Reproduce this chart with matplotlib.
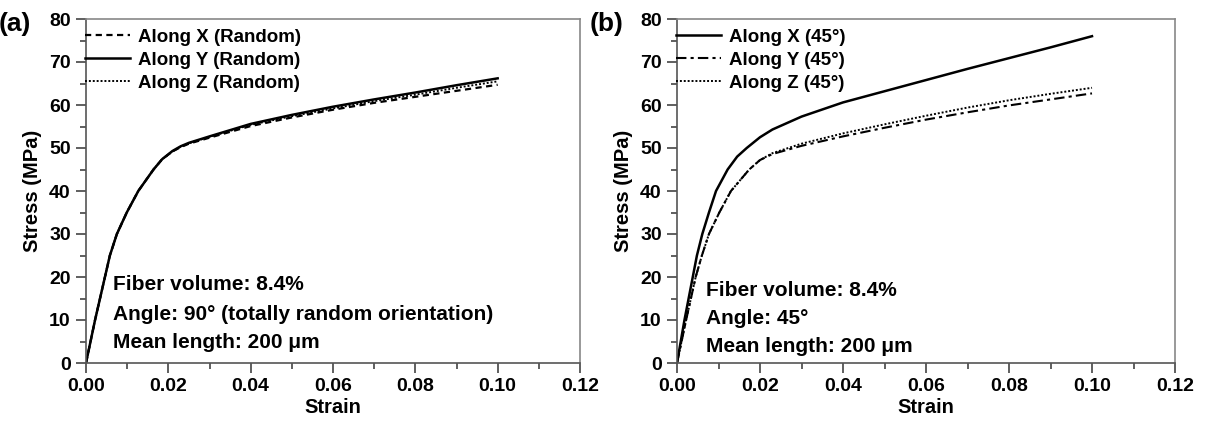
import numpy as np
import matplotlib.pyplot as plt
from matplotlib.ticker import MultipleLocator

plt.rcParams['font.family'] = ['Liberation Sans', 'DejaVu Sans']
plt.rcParams['font.weight'] = 'bold'

# (a) random orientation
strain_a = [0, 0.0022, 0.0046, 0.0058, 0.0075, 0.0099, 0.0127, 0.0164, 0.0185,
            0.021, 0.023, 0.025, 0.03, 0.04, 0.05, 0.06, 0.07, 0.08, 0.09, 0.10]
stress_ax = [0, 10, 20, 25, 30, 35, 40, 45, 47.4, 49.2, 50.2, 51.0, 52.4, 55.1,
             57.1, 58.9, 60.5, 61.9, 63.3, 64.7]
stress_ay = [0, 10, 20, 25, 30, 35, 40, 45, 47.4, 49.3, 50.4, 51.2, 52.7, 55.6,
             57.7, 59.6, 61.3, 62.9, 64.6, 66.2]
stress_az = [0, 10, 20, 25, 30, 35, 40, 45, 47.4, 49.2, 50.3, 51.1, 52.6, 55.4,
             57.4, 59.2, 60.9, 62.4, 64.0, 65.5]

# (b) 45 degree orientation
strain_bx = [0, 0.0018, 0.0038, 0.0048, 0.0061, 0.0077, 0.0094, 0.0122, 0.0145,
             0.0168, 0.02, 0.023, 0.03, 0.04, 0.05, 0.06, 0.07, 0.08, 0.09, 0.10]
stress_bx = [0, 10, 20, 25, 30, 35, 40, 45, 48, 50, 52.5, 54.3, 57.3, 60.6,
             63.2, 65.8, 68.4, 70.9, 73.4, 76.0]
strain_byz = [0, 0.0022, 0.0045, 0.006, 0.0077, 0.0102, 0.013, 0.0174, 0.02,
              0.023, 0.03, 0.04, 0.05, 0.06, 0.07, 0.08, 0.09, 0.10]
stress_by = [0, 10, 20, 25, 30, 35, 40, 45, 47.2, 48.6, 50.5, 52.7, 54.7,
             56.6, 58.3, 59.9, 61.3, 62.7]
stress_bz = [0, 10, 20, 25, 30, 35, 40, 45, 47.2, 48.8, 51.0, 53.4, 55.5,
             57.5, 59.4, 61.1, 62.6, 64.0]

notes_a = ['Fiber volume: 8.4%', 'Angle: 90° (totally random orientation)',
           'Mean length: 200 μm']
notes_b = ['Fiber volume: 8.4%', 'Angle: 45°', 'Mean length: 200 μm']

W, H = 1207, 428
fig = plt.figure(figsize=(W / 100, H / 100), dpi=100)
ax1 = fig.add_axes([86 / W, 1 - 363 / H, 494 / W, 344 / H])
ax2 = fig.add_axes([677 / W, 1 - 363 / H, 498 / W, 344 / H])

ax1.plot(strain_a, stress_ax, color='black', lw=1.6, ls=(0, (2.8, 2.0)), label='Along X (Random)')
ax1.plot(strain_a, stress_ay, color='black', lw=1.8, ls='-', label='Along Y (Random)')
ax1.plot(strain_a, stress_az, color='black', lw=1.4, ls=(0, (1, 1)), label='Along Z (Random)')

ax2.plot(strain_bx, stress_bx, color='black', lw=1.8, ls='-', label='Along X (45°)')
ax2.plot(strain_byz, stress_by, color='black', lw=1.5, ls=(0, (5, 2, 1.5, 2)), label='Along Y (45°)')
ax2.plot(strain_byz, stress_bz, color='black', lw=1.4, ls=(0, (1, 1)), label='Along Z (45°)')

for ax, notes, ypos, tag in [(ax1, notes_a, [284, 314, 343], '(a)'),
                             (ax2, notes_b, [290, 319, 347], '(b)')]:
    ax.set_xlim(0, 0.12)
    ax.set_ylim(0, 80)
    ax.xaxis.set_major_locator(MultipleLocator(0.02))
    ax.xaxis.set_minor_locator(MultipleLocator(0.01))
    ax.yaxis.set_major_locator(MultipleLocator(10))
    ax.yaxis.set_minor_locator(MultipleLocator(5))
    ax.xaxis.set_major_formatter(plt.FuncFormatter(lambda v, p: f'{v:.2f}'))
    ax.tick_params(which='both', direction='out', top=False, right=False,
                   color='#444444', width=1.2, labelsize=14, pad=3.5)
    ax.tick_params(which='major', length=7.5)
    ax.tick_params(which='minor', length=4.5)
    for s in ax.spines.values():
        s.set_color('#888888')
        s.set_linewidth(1.2)
    ax.spines['left'].set_color('#555555')
    ax.spines['bottom'].set_color('#555555')
    ax.set_xlabel('Strain', fontsize=14.5, fontweight='bold', labelpad=2)
    ax.set_ylabel('Stress (MPa)', fontsize=14.5, fontweight='bold', labelpad=5)
    leg = ax.legend(loc='upper left', bbox_to_anchor=(-3 / 494, 1 - 8 / 344),
                    frameon=False, fontsize=13.5, handlelength=2.4,
                    handletextpad=0.45, labelspacing=0.3, borderaxespad=0,
                    borderpad=0.1)
    x0 = ax.get_position().x0 * W
    for txt, yp in zip(notes, ypos):
        fig.text((x0 + (27 if ax is ax1 else 29)) / W, 1 - yp / H, txt,
                 fontsize=15, fontweight='bold', va='center', ha='left')
    fig.text((x0 - 87) / W, 1 - 24 / H, tag, fontsize=19, fontweight='bold',
             va='center', ha='left')

fig.savefig('out.png', dpi=100)
